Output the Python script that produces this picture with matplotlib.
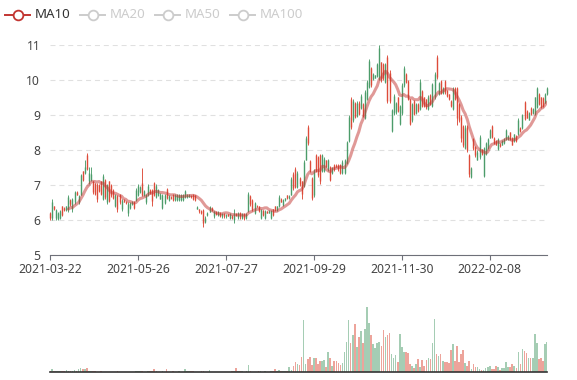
import numpy as np
import pandas as pd
import matplotlib
matplotlib.use('Agg')
import matplotlib.pyplot as plt
from matplotlib.lines import Line2D

plt.rcParams['font.family'] = ['Noto Sans', 'DejaVu Sans']

# daily candles, 2021-03-22 .. 2022-03 (one value per trading day)
opens = [
    6.2, 6.05, 6.4, 6.05, 6.02, 6.05, 6.4, 6.35, 6.29, 6.3,
    6.58, 6.3, 6.5, 6.8, 6.5, 6.72, 7.4, 7.33, 7.85, 7.1,
    7.15, 7.1, 7.05, 7.0, 7.0, 7.1, 6.6, 7.15, 6.5, 7.1,
    7.0, 6.87, 6.4, 6.68, 6.72, 6.3, 6.58, 6.52, 6.2, 6.33,
    6.45, 6.52, 6.58, 6.72, 6.8, 7.05, 6.72, 6.5, 6.72, 6.86,
    6.85, 7.05, 6.66, 6.7, 6.6, 6.35, 6.48, 6.88, 6.56, 6.66,
    6.72, 6.56, 6.57, 6.57, 6.57, 6.57, 6.65, 6.65, 6.66, 6.68,
    6.72, 6.7, 6.32, 6.3, 6.25, 6.28, 5.95, 6.13, 6.24, 6.34,
    6.1, 6.24, 6.15, 6.2, 6.1, 6.17, 6.1, 6.16, 6.05, 6.12,
    6.0, 6.18, 6.08, 6.2, 6.06, 6.18, 6.05, 6.25, 6.68, 6.58,
    6.2, 6.41, 6.4, 6.05, 6.28, 6.06, 6.26, 6.21, 6.05, 6.3,
    6.4, 6.28, 6.4, 6.6, 6.42, 6.56, 6.7, 6.62, 6.72, 7.32,
    7.45, 6.95, 7.2, 7.1, 6.98, 7.72, 8.65, 7.68, 7.2, 6.7,
    7.85, 7.8, 7.85, 7.4, 7.4, 7.7, 7.45, 7.52, 7.35, 7.58,
    7.58, 7.58, 7.58, 7.35, 7.35, 7.62, 8.25, 9.45, 8.85, 9.35,
    8.97, 9.35, 9.2, 9.3, 8.92, 9.45, 9.8, 10.35, 10.03, 10.07,
    10.12, 10.05, 10.5, 10.45, 9.95, 10.65, 10.2, 8.55, 9.05, 9.08,
    9.5, 8.75, 9.05, 9.85, 10.18, 9.97, 9.45, 8.85, 9.4, 9.07,
    9.3, 9.17, 9.68, 9.5, 9.45, 9.17, 9.58, 9.27, 9.5, 10.65,
    9.6, 9.97, 9.63, 9.97, 9.7, 9.6, 9.4, 9.17, 9.78, 9.77,
    9.3, 8.95, 8.68, 8.07, 8.67, 7.87, 7.22, 8.3, 8.08, 7.72,
    7.8, 8.02, 7.25, 7.88, 8.06, 8.35, 8.68, 8.35, 8.26, 8.02,
    8.18, 8.15, 8.2, 8.3, 8.3, 8.5, 8.35, 8.25, 8.4, 8.45,
    8.64, 8.63, 9.38, 9.12, 8.87, 9.2, 9.06, 9.02, 9.22, 9.6,
    9.5, 9.48, 9.35, 9.6,
]
closes = [
    6.05, 6.5, 6.3, 6.28, 6.2, 6.27, 6.15, 6.29, 6.4, 6.65,
    6.45, 6.6, 6.8, 6.72, 6.68, 7.28, 7.15, 7.5, 7.45, 7.35,
    7.3, 6.8, 6.75, 6.6, 6.82, 6.75, 7.25, 6.65, 7.0, 6.55,
    6.7, 6.62, 6.7, 6.3, 6.5, 6.55, 6.52, 6.48, 6.45, 6.48,
    6.5, 6.35, 6.85, 6.98, 6.95, 6.72, 6.83, 6.72, 6.98, 6.76,
    6.55, 6.72, 6.97, 6.85, 6.75, 6.72, 6.7, 6.62, 6.68, 6.62,
    6.58, 6.7, 6.7, 6.7, 6.7, 6.72, 6.82, 6.72, 6.72, 6.65,
    6.6, 6.57, 6.38, 6.25, 6.2, 5.9, 6.05, 6.2, 6.38, 6.28,
    6.25, 6.18, 6.22, 6.12, 6.18, 6.1, 6.15, 6.12, 6.17, 6.05,
    6.2, 6.15, 6.2, 6.1, 6.17, 6.05, 6.18, 6.75, 6.45, 6.3,
    6.48, 6.37, 6.25, 6.28, 6.15, 6.25, 6.2, 6.26, 6.27, 6.15,
    6.3, 6.4, 6.65, 6.52, 6.58, 6.62, 6.62, 6.68, 7.18, 6.9,
    6.95, 7.35, 7.02, 6.75, 7.65, 8.35, 8.2, 7.4, 6.62, 7.4,
    7.4, 7.28, 7.1, 7.85, 7.75, 7.52, 7.7, 7.15, 7.48, 7.45,
    7.52, 7.45, 7.35, 7.65, 7.7, 8.22, 8.95, 8.65, 9.4, 8.95,
    9.35, 9.02, 9.55, 8.97, 9.65, 9.95, 10.55, 9.85, 10.17, 10.13,
    10.45, 10.9, 10.0, 10.05, 10.45, 9.4, 9.4, 9.15, 9.55, 9.33,
    9.12, 9.25, 9.85, 10.35, 9.95, 9.47, 8.75, 9.3, 9.02, 9.3,
    9.12, 9.95, 9.27, 9.27, 9.22, 9.52, 9.32, 9.88, 10.18, 10.08,
    9.9, 9.65, 9.78, 9.65, 9.55, 9.45, 9.26, 9.75, 9.45, 8.9,
    8.85, 8.35, 8.15, 8.62, 8.0, 7.3, 7.48, 8.05, 7.85, 7.95,
    8.38, 7.88, 8.05, 8.2, 8.3, 8.58, 8.36, 8.2, 8.15, 8.3,
    8.11, 8.26, 8.31, 8.58, 8.4, 8.3, 8.15, 8.45, 8.25, 8.85,
    8.54, 9.0, 8.88, 8.92, 9.07, 9.02, 9.17, 9.5, 9.78, 9.3,
    9.22, 9.25, 9.6, 9.78,
]
lows = [
    6.0, 6.0, 6.29, 6.0, 6.0, 6.03, 6.12, 6.27, 6.27, 6.22,
    6.41, 6.22, 6.46, 6.7, 6.46, 6.7, 7.12, 7.31, 7.42, 7.03,
    7.12, 6.74, 6.7, 6.5, 6.79, 6.7, 6.57, 6.6, 6.46, 6.5,
    6.65, 6.6, 6.36, 6.22, 6.46, 6.27, 6.5, 6.45, 6.12, 6.31,
    6.42, 6.31, 6.55, 6.69, 6.78, 6.69, 6.69, 6.45, 6.69, 6.74,
    6.41, 6.69, 6.64, 6.69, 6.59, 6.31, 6.45, 6.59, 6.55, 6.6,
    6.55, 6.55, 6.55, 6.55, 6.55, 6.55, 6.63, 6.63, 6.65, 6.63,
    6.58, 6.55, 6.31, 6.2, 6.18, 5.81, 5.9, 6.12, 6.22, 6.27,
    6.07, 6.15, 6.12, 6.08, 6.05, 6.05, 6.05, 6.1, 6.03, 6.03,
    5.9, 6.12, 6.03, 6.03, 6.03, 6.0, 6.03, 6.22, 6.41, 6.27,
    6.17, 6.36, 6.22, 6.03, 6.12, 6.03, 6.19, 6.2, 6.03, 6.12,
    6.27, 6.27, 6.36, 6.5, 6.41, 6.55, 6.6, 6.6, 6.7, 6.86,
    6.91, 6.9, 6.98, 6.6, 6.93, 7.7, 8.13, 7.36, 6.57, 6.65,
    7.36, 7.22, 7.03, 7.36, 7.36, 7.5, 7.41, 7.12, 7.32, 7.41,
    7.5, 7.41, 7.32, 7.32, 7.32, 7.6, 8.22, 8.61, 8.8, 8.9,
    8.94, 8.99, 9.18, 8.94, 8.89, 9.42, 9.76, 9.8, 10.01, 10.05,
    10.09, 10.0, 9.95, 10.0, 9.92, 9.33, 9.33, 8.51, 8.99, 9.04,
    9.09, 8.7, 8.99, 9.8, 9.9, 9.42, 8.7, 8.8, 8.99, 9.04,
    9.09, 9.13, 9.23, 9.23, 9.18, 9.13, 9.28, 9.23, 9.47, 10.04,
    9.56, 9.61, 9.61, 9.61, 9.52, 9.42, 9.23, 9.13, 9.42, 8.7,
    8.8, 8.22, 8.08, 8.03, 7.94, 7.22, 7.2, 8.0, 7.8, 7.7,
    7.75, 7.85, 7.22, 7.85, 8.04, 8.33, 8.33, 8.18, 8.13, 7.99,
    8.09, 8.13, 8.18, 8.28, 8.28, 8.28, 8.13, 8.23, 8.23, 8.42,
    8.52, 8.61, 8.85, 8.9, 8.85, 9.0, 9.04, 9.0, 9.19, 9.28,
    9.19, 9.23, 9.33, 9.57,
]
highs = [
    6.22, 6.6, 6.41, 6.31, 6.22, 6.29, 6.41, 6.36, 6.41, 6.7,
    6.6, 6.64, 6.84, 6.82, 6.7, 7.31, 7.41, 7.7, 7.9, 7.5,
    7.5, 7.12, 7.07, 7.07, 7.03, 7.12, 7.31, 7.17, 7.03, 7.12,
    7.03, 6.89, 6.74, 6.7, 6.74, 6.6, 6.6, 6.55, 6.5, 6.5,
    6.55, 6.55, 6.9, 7.02, 6.97, 7.49, 6.85, 6.74, 7.02, 6.88,
    6.88, 7.09, 7.02, 6.88, 6.78, 6.74, 6.74, 6.9, 6.7, 6.68,
    6.74, 6.74, 6.73, 6.73, 6.73, 6.75, 6.85, 6.74, 6.74, 6.7,
    6.74, 6.72, 6.4, 6.32, 6.28, 6.31, 6.1, 6.22, 6.4, 6.36,
    6.27, 6.27, 6.25, 6.22, 6.2, 6.2, 6.18, 6.18, 6.19, 6.13,
    6.3, 6.2, 6.22, 6.22, 6.19, 6.2, 6.2, 6.81, 6.7, 6.6,
    6.51, 6.42, 6.41, 6.31, 6.29, 6.29, 6.27, 6.28, 6.29, 6.31,
    6.41, 6.41, 6.7, 6.62, 6.6, 6.63, 6.71, 6.7, 7.22, 7.36,
    7.5, 7.41, 7.22, 7.12, 7.7, 8.4, 8.7, 7.7, 7.22, 7.46,
    7.89, 7.84, 7.89, 7.89, 7.8, 7.72, 7.75, 7.55, 7.5, 7.6,
    7.6, 7.6, 7.6, 7.7, 7.75, 8.27, 8.99, 9.5, 9.47, 9.37,
    9.39, 9.39, 9.59, 9.33, 9.71, 10.0, 10.59, 10.38, 10.19, 10.15,
    10.49, 11.0, 10.52, 10.49, 10.49, 10.71, 10.28, 9.18, 9.61, 9.37,
    9.52, 9.28, 9.9, 10.4, 10.21, 10.0, 9.47, 9.33, 9.42, 9.33,
    9.33, 10.02, 9.71, 9.52, 9.47, 9.56, 9.61, 9.92, 10.23, 10.71,
    9.94, 10.0, 9.8, 10.0, 9.71, 9.61, 9.42, 9.8, 9.8, 9.8,
    9.33, 8.99, 8.7, 8.7, 8.7, 7.89, 7.51, 8.33, 8.1, 7.99,
    8.42, 8.04, 8.09, 8.23, 8.33, 8.61, 8.71, 8.37, 8.28, 8.33,
    8.2, 8.28, 8.33, 8.61, 8.42, 8.52, 8.37, 8.47, 8.42, 8.9,
    8.66, 9.04, 9.41, 9.14, 9.09, 9.23, 9.19, 9.52, 9.81, 9.62,
    9.52, 9.5, 9.62, 9.81,
]
volumes = [
    1, 3, 1.3, 0.8, 0.6, 1.3, 1, 1.3, 2, 1,
    1.5, 1, 2, 1.5, 3, 4, 3.5, 3, 4, 1,
    1, 1, 0.8, 0.5, 0.5, 1, 0.5, 0.4, 0.5, 0.4,
    0.5, 0.4, 0.5, 0.6, 0.4, 0.5, 0.4, 0.5, 0.4, 0.5,
    0.5, 0.4, 1, 1, 0.8, 1, 0.5, 0.5, 1, 1.2,
    1.5, 3, 1, 0.5, 0.5, 0.6, 0.5, 3, 0.5, 0.5,
    1, 0.5, 0.5, 0.6, 0.5, 0.5, 3, 1, 1, 0.8,
    1, 0.5, 0.5, 0.5, 1, 0.8, 0.5, 0.5, 2, 0.5,
    0.5, 0.5, 0.4, 0.5, 0.4, 0.5, 0.4, 0.5, 0.5, 1,
    1, 4, 0.8, 0.6, 0.8, 0.5, 0.8, 7, 1.3, 0.5,
    0.5, 0.5, 1.3, 1.3, 0.5, 0.6, 0.5, 0.5, 0.6, 1,
    3, 1, 2, 1, 1.5, 1, 1, 4.7, 2, 6,
    10, 8, 7, 15, 52, 8, 13, 15, 7, 14,
    14, 8, 11, 11, 12, 5, 20, 14, 6, 11,
    11, 9, 7, 9, 20, 30, 52, 29, 37, 48,
    25, 35, 41, 29, 43, 65, 49, 37, 28, 24,
    29, 30, 26, 42, 35, 37, 39, 18, 14, 17,
    10, 38, 25, 20, 20, 19, 8, 6, 4, 8,
    13, 5, 12, 6, 12, 14, 13, 29, 53, 18,
    16, 18, 11, 10, 10, 9, 22, 28, 11, 26,
    10, 18, 22, 9, 6, 11, 3, 8, 5, 5,
    3, 2, 2, 4, 5, 6, 3, 3, 6, 5,
    2, 4, 4, 10, 5, 5, 8, 6, 4, 20,
    8, 23, 21, 19, 14, 14, 14, 38, 29, 13,
    14, 11, 28, 30,
]
tick_pos = [0, 43, 86, 129, 172, 215]
tick_labels = ['2021-03-22', '2021-05-26', '2021-07-27', '2021-09-29', '2021-11-30', '2022-02-08']
legend_names = ['MA10', 'MA20', 'MA50', 'MA100']

RED, GREEN = '#dd4b39', '#4c9c6a'
AXIS = '#6e7079'
TXT = '#444444'
W, H = 577, 380


def box(x0, y0, x1, y1):
    # pixel box -> figure fraction
    return [x0 / W, 1 - y1 / H, (x1 - x0) / W, (y1 - y0) / H]


fig = plt.figure(figsize=(W / 100, H / 100), dpi=100)
ax = fig.add_axes(box(50, 45, 547, 255))
axv = fig.add_axes(box(50, 300, 547, 372))

o, c = np.array(opens), np.array(closes)
lo, hi = np.array(lows), np.array(highs)
x = np.arange(len(c))
cols = np.where(c >= o, GREEN, RED)

ax.vlines(x, lo, hi, colors=cols, lw=0.65, zorder=3, clip_on=False)
ax.vlines(x, np.minimum(o, c), np.maximum(o, c), colors=cols, lw=1.0, zorder=3, clip_on=False)
ma10 = pd.Series(c).rolling(10).mean()
ax.plot(x, ma10, color='#c23531', alpha=0.5, lw=2.2, zorder=4, solid_capstyle='round')

ax.set_xlim(0, len(c) - 1)
ax.set_ylim(5, 11)
ax.set_yticks(range(5, 12))
ax.set_xticks(tick_pos)
ax.set_xticklabels(tick_labels)
ax.grid(axis='y', color='#e0e0e0', lw=0.8, ls=(0, (4.5, 3.5)), zorder=0)
ax.set_axisbelow(True)
for s in ['top', 'right', 'left']:
    ax.spines[s].set_visible(False)
ax.spines['bottom'].set_color(AXIS)
ax.spines['bottom'].set_linewidth(0.8)
ax.tick_params(axis='y', length=0, pad=7, labelsize=8.8, labelcolor=TXT)
ax.tick_params(axis='x', length=3.6, width=0.8, color=AXIS, pad=2, labelsize=8.8, labelcolor=TXT)

axv.bar(x, volumes, width=0.8, color=cols, alpha=0.5, linewidth=0)
axv.set_xlim(0, len(c) - 1)
axv.set_ylim(0, max(volumes) * 1.11)
axv.set_xticks([])
axv.set_yticks([])
for s in ['top', 'right', 'left']:
    axv.spines[s].set_visible(False)
axv.spines['bottom'].set_color('#333333')
axv.spines['bottom'].set_linewidth(1.2)

# legend (MA10 active, the others switched off)
ly = 1 - 15 / H
for k, name in enumerate(legend_names):
    col = '#c23531' if k == 0 else '#cccccc'
    tcol = '#333333' if k == 0 else '#cccccc'
    x0 = 5 + 75 * k
    fig.add_artist(Line2D([x0 / W, (x0 + 25) / W], [ly, ly], color=col, lw=1.4))
    fig.add_artist(Line2D([(x0 + 12.5) / W], [ly], marker='o', ms=7, mfc='white', mec=col, mew=1.3))
    fig.text((x0 + 30) / W, ly, name, color=tcol, fontsize=9.6, va='center', ha='left')

fig.savefig('out.png', dpi=100)
